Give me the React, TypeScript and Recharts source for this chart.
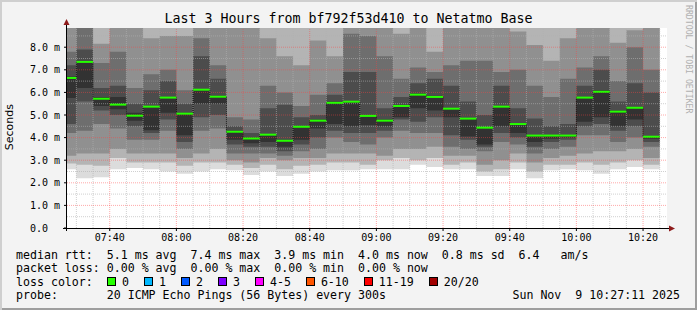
import { ComposedChart, Area, Line, Scatter, XAxis, YAxis, CartesianGrid, ReferenceLine } from "recharts";

const MONO = '"DejaVu Sans Mono", monospace';
const SANS = '"DejaVu Sans", sans-serif';

// time in minutes since midnight; one bin = 5 minutes (20 pings every 300s)
const firstBinStart = 445; // 07:25
const binMinutes = 5;
const windowStart = 447 + 11 / 60; // 07:27:11
const windowEnd = windowStart + 180; // 10:27:11
const yMax = 8.85;

// smoke: sorted ping quantiles per bin (ms), outermost pair first
const pMin = [2.6, 2.2, 2.25, 2.6, 2.65, 2.6, 2.5, 2.4, 2.5, 2.6, 2.55, 2.35, 2.5, 2.3, 2.4, 2.5, 2.55, 2.55, 2.6, 2.6, 2.6, 2.8, 2.7, 2.6, 2.6, 2.3, 2.3, 2.6, 2.2, 2.55, 2.6, 2.55, 2.4, 2.6, 2.7, 2.6];
const lo2 = [2.85, 2.8, 2.75, 3.1, 2.9, 2.9, 2.9, 2.75, 2.9, 2.9, 2.8, 2.65, 2.8, 2.6, 2.75, 2.8, 2.9, 2.9, 2.8, 3.0, 3.1, 3.0, 3.1, 2.8, 2.9, 2.5, 2.6, 2.9, 2.5, 2.8, 2.8, 2.9, 2.8, 2.9, 3.0, 2.8];
const lo3 = [3.2, 3.3, 3.3, 3.5, 3.3, 3.3, 3.3, 3.1, 3.3, 3.5, 3.0, 2.9, 3.1, 3.0, 3.1, 3.1, 3.3, 3.3, 3.3, 3.2, 3.5, 3.5, 3.6, 3.2, 3.2, 2.8, 3.0, 3.3, 2.9, 3.1, 3.2, 3.3, 3.4, 3.4, 3.5, 3.1];
const lo4 = [4.2, 4.3, 4.6, 4.4, 3.9, 3.9, 4.3, 3.5, 4.3, 4.4, 3.3, 3.3, 3.3, 3.2, 3.4, 3.5, 4.0, 3.8, 3.7, 4.0, 4.3, 4.2, 4.2, 3.6, 3.5, 3.4, 3.8, 3.7, 3.3, 3.5, 3.6, 4.1, 4.1, 3.8, 4.0, 3.6];
const lo5 = [4.6, 5.6, 5.2, 5.0, 4.5, 4.2, 4.8, 3.8, 4.9, 5.0, 3.7, 3.6, 3.6, 3.4, 3.7, 4.0, 4.3, 4.2, 4.2, 4.3, 4.8, 4.7, 4.9, 4.1, 3.9, 3.6, 4.2, 4.0, 3.6, 3.8, 3.9, 4.5, 4.6, 4.3, 4.5, 3.8];
const lo6 = [5.75, 6.2, 5.4, 5.25, 4.75, 4.33, 5.1, 4.1, 5.5, 5.5, 3.9, 3.75, 3.8, 3.6, 3.9, 4.4, 4.6, 4.5, 4.55, 4.5, 4.9, 5.3, 5.2, 4.9, 4.05, 3.7, 4.5, 4.2, 3.8, 3.95, 4.0, 4.7, 4.9, 4.5, 4.8, 3.95];
const hi6 = [6.7, 7.4, 5.8, 5.8, 5.1, 5.4, 5.8, 5.1, 6.15, 5.85, 4.3, 4.0, 4.15, 3.9, 4.5, 4.8, 5.6, 5.6, 5.0, 4.8, 5.45, 5.95, 5.85, 5.3, 4.85, 4.45, 5.4, 4.65, 4.1, 4.1, 4.1, 5.8, 6.1, 5.2, 5.35, 4.05];
const hi5 = [7.2, 7.9, 6.2, 6.3, 5.5, 6.1, 6.5, 5.5, 7.6, 6.6, 4.5, 4.2, 5.3, 5.45, 4.9, 5.0, 5.9, 6.9, 6.9, 5.3, 5.8, 6.4, 6.6, 6.3, 5.6, 5.0, 6.3, 5.3, 4.85, 4.5, 4.6, 6.3, 7.0, 5.6, 6.4, 6.0];
const hi4 = [7.8, 9.5, 7.3, 7.8, 6.2, 6.8, 7.0, 6.1, 8.4, 7.2, 4.9, 4.8, 6.3, 6.0, 5.4, 5.9, 6.4, 8.6, 8.5, 7.6, 6.6, 7.1, 6.9, 7.2, 7.4, 7.4, 6.9, 7.0, 6.3, 5.8, 6.6, 7.1, 7.6, 6.5, 8.0, 7.0];
const hi3 = [9.5, 10, 8.15, 9.5, 9.5, 8.4, 8.5, 8.5, 9.5, 9.5, 9.5, 9.5, 8.4, 7.6, 7.2, 8.3, 7.6, 9.5, 9.5, 9.5, 8.6, 9.5, 7.8, 9.5, 9.5, 9.5, 9.5, 8.7, 8.1, 7.4, 8.4, 9.5, 9.5, 8.2, 8.75, 9.5];
const hi2 = [10, 10.5, 9.5, 10, 10, 9.5, 9.5, 9.5, 10, 10, 10, 10, 9.5, 9.5, 9.5, 9.5, 9.5, 10, 10, 10, 9.5, 10, 9.5, 10, 10, 10, 10, 9.5, 9.5, 9.5, 9.5, 10, 10, 9.5, 9.5, 10];
const pMax = [11, 11, 10, 11, 11, 10, 10, 10, 11, 11, 11, 11, 10, 10, 10, 10, 10, 11, 11, 11, 10, 11, 10, 11, 11, 11, 11, 10, 10, 10, 10, 11, 11, 10, 10, 11];

// median rtt per bin (ms)
const median = [6.64, 7.35, 5.72, 5.46, 4.97, 5.37, 5.77, 5.06, 6.12, 5.81, 4.26, 3.96, 4.13, 3.86, 4.48, 4.75, 5.54, 5.59, 4.96, 4.75, 5.4, 5.9, 5.8, 5.28, 4.84, 4.44, 5.37, 4.6, 4.09, 4.09, 4.09, 5.77, 6.03, 5.15, 5.32, 4.04];

const xTickValues = [460, 480, 500, 520, 540, 560, 580, 600, 620];
const xTickLabels = ["07:40", "08:00", "08:20", "08:40", "09:00", "09:20", "09:40", "10:00", "10:20"];
const yTickValues = [0, 1, 2, 3, 4, 5, 6, 7, 8];
const yTickLabels = ["0.0", "1.0 m", "2.0 m", "3.0 m", "4.0 m", "5.0 m", "6.0 m", "7.0 m", "8.0 m"];
const yMinorValues = [0.5, 1.5, 2.5, 3.5, 4.5, 5.5, 6.5, 7.5, 8.5];

const lossLabels = ["0", "1", "2", "3", "4-5", "6-10", "11-19", "20/20"];
const lossColors = ["#26ff00", "#00b8ff", "#0059ff", "#7e00ff", "#ff00ff", "#ff5500", "#ff0000", "#a10000"];

const smokeLayers = [
  { key: "l1", lo: pMin, hi: pMax, color: "#dcdcdc" },
  { key: "l2", lo: lo2, hi: hi2, color: "#b4b4b4" },
  { key: "l3", lo: lo3, hi: hi3, color: "#909090" },
  { key: "l4", lo: lo4, hi: hi4, color: "#6e6e6e" },
  { key: "l5", lo: lo5, hi: hi5, color: "#4c4c4c" },
  { key: "l6", lo: lo6, hi: hi6, color: "#323232" },
];

const rows = median.map((m, i) => {
  const r: any = { t: firstBinStart + i * binMinutes, med: m };
  smokeLayers.forEach((l) => (r[l.key] = [l.lo[i], l.hi[i]]));
  return r;
});
// closing point so the last step is drawn
rows.push({ ...rows[rows.length - 1], t: firstBinStart + median.length * binMinutes });

const medianPoints = median.map((m, i) => ({ t: firstBinStart + i * binMinutes + binMinutes / 2, med: m }));

const minorX: number[] = [];
for (let t = firstBinStart + binMinutes; t < windowEnd; t += binMinutes) {
  if (!xTickValues.includes(t)) minorX.push(t);
}

const W = 697;
const H = 310;
const PLOT_L = 67;
const PLOT_R = 667;
const PLOT_T = 28;
const PLOT_B = 228;
const halfBinPx = ((PLOT_R - PLOT_L) / (windowEnd - windowStart)) * (binMinutes / 2);

const MedianTick = (p: any) => {
  const x1 = Math.max(p.cx - halfBinPx, PLOT_L);
  const x2 = Math.min(p.cx + halfBinPx, PLOT_R);
  return <line x1={x1} x2={x2} y1={p.cy} y2={p.cy} stroke={lossColors[0]} strokeWidth={2} />;
};

const YTick = (p: any) => {
  const idx = yTickValues.indexOf(p.payload.value);
  return (
    <text x={30} y={p.y} dy="0.35em" textAnchor="start" fontSize={10} fontFamily={MONO} fill="#000">
      {yTickLabels[idx]}
    </text>
  );
};

const minorGrid = "rgba(176,176,176,0.6)";
const majorGrid = "rgba(255,64,64,0.45)";

const rowStyle = (top: number): React.CSSProperties => ({
  position: "absolute",
  left: 16,
  top,
  fontFamily: MONO,
  fontSize: 11.6,
  lineHeight: "14px",
  whiteSpace: "pre",
  color: "#000",
});

export default function App() {
  return (
    <div style={{ position: "relative", width: W, height: H, background: "#f3f3f3", overflow: "hidden" }}>
      <style>{"body{margin:0}"}</style>

      <div style={{ position: "absolute", left: 0, top: 0 }}>
        <ComposedChart width={W} height={H} data={rows} margin={{ top: PLOT_T, right: W - PLOT_R, bottom: H - PLOT_B, left: PLOT_L }}>
          <CartesianGrid fill="#ffffff" stroke="none" />
          <XAxis type="number" dataKey="t" domain={[windowStart, windowEnd]} allowDataOverflow hide />
          <YAxis type="number" domain={[0, yMax]} allowDataOverflow hide />
          {smokeLayers.map((l) => (
            <Area
              key={l.key}
              type="stepAfter"
              dataKey={l.key}
              stroke="none"
              fill={l.color}
              fillOpacity={1}
              dot={false}
              activeDot={false}
              isAnimationActive={false}
            />
          ))}
        </ComposedChart>
      </div>

      <div style={{ position: "absolute", left: 0, top: 0 }}>
        <ComposedChart width={W} height={H} data={rows} margin={{ top: PLOT_T, right: W - PLOT_R, bottom: 0, left: 0 }}>
          <XAxis
            type="number"
            dataKey="t"
            domain={[windowStart, windowEnd]}
            allowDataOverflow
            ticks={xTickValues}
            interval={0}
            tickFormatter={(v: number) => xTickLabels[xTickValues.indexOf(v)]}
            height={H - PLOT_B}
            axisLine={false}
            tickLine={{ stroke: "#000" }}
            tickSize={3}
            tickMargin={3}
            tick={{ fontSize: 10, fill: "#000", fontFamily: MONO }}
          />
          <YAxis
            type="number"
            domain={[0, yMax]}
            allowDataOverflow
            ticks={yTickValues}
            interval={0}
            width={PLOT_L}
            axisLine={false}
            tickLine={{ stroke: "#000" }}
            tickSize={3}
            tick={<YTick />}
          />
          {minorX.map((t) => (
            <ReferenceLine key={"mx" + t} x={t} stroke={minorGrid} strokeDasharray="1 1" />
          ))}
          {yMinorValues.map((v) => (
            <ReferenceLine key={"my" + v} y={v} stroke={minorGrid} strokeDasharray="1 1" />
          ))}
          {xTickValues.map((t) => (
            <ReferenceLine key={"Mx" + t} x={t} stroke={majorGrid} strokeDasharray="1 1" />
          ))}
          {yTickValues.slice(1).map((v) => (
            <ReferenceLine key={"My" + v} y={v} stroke={majorGrid} strokeDasharray="1 1" />
          ))}
          <Line type="stepAfter" dataKey="med" stroke="#111" strokeWidth={1} strokeDasharray="1 1" dot={false} activeDot={false} isAnimationActive={false} />
          <Scatter data={medianPoints} dataKey="med" shape={MedianTick} isAnimationActive={false} />
        </ComposedChart>
      </div>

      <svg width={W} height={H} style={{ position: "absolute", left: 0, top: 0, pointerEvents: "none" }}>
        <line x1={63} x2={670} y1={PLOT_B + 0.5} y2={PLOT_B + 0.5} stroke="#000" strokeWidth={1} />
        <line x1={PLOT_L - 0.5} x2={PLOT_L - 0.5} y1={PLOT_B + 3} y2={23} stroke="#000" strokeWidth={1} />
        <polygon points={`${PLOT_L - 3.5},25 ${PLOT_L + 2.5},25 ${PLOT_L - 0.5},19`} fill="#8e1b1b" />
        <polygon points={`669,${PLOT_B - 2.5} 669,${PLOT_B + 3.5} 675,${PLOT_B + 0.5}`} fill="#8e1b1b" />
      </svg>

      <div style={{ position: "absolute", left: 0, top: 11, width: W, textAlign: "center", fontFamily: MONO, fontSize: 13.3, lineHeight: "16px", color: "#000" }}>
        Last 3 Hours from bf792f53d410 to Netatmo Base
      </div>

      <div style={{ position: "absolute", left: 4, top: 104, writingMode: "vertical-rl", transform: "rotate(180deg)", fontFamily: SANS, fontSize: 11, lineHeight: "12px", color: "#000" }}>
        Seconds
      </div>

      <div style={{ position: "absolute", left: 684, top: 5, writingMode: "vertical-rl", fontFamily: MONO, fontSize: 8.2, lineHeight: "9px", color: "#b0b0b0" }}>
        RRDTOOL / TOBI OETIKER
      </div>

      <div style={rowStyle(247.5)}>{"median rtt:  5.1 ms avg  7.4 ms max  3.9 ms min  4.0 ms now  0.8 ms sd  6.4   am/s"}</div>
      <div style={rowStyle(261)}>{"packet loss: 0.00 % avg  0.00 % max  0.00 % min  0.00 % now"}</div>
      <div style={{ ...rowStyle(274.5), display: "flex", alignItems: "center" }}>
        <span style={{ width: 91 }}>loss color:</span>
        {lossLabels.map((lab, i) => (
          <span key={lab} style={{ display: "flex", alignItems: "center", marginRight: 15 }}>
            <span style={{ width: 7, height: 7, border: "1px solid #000", background: lossColors[i], marginRight: 6 }} />
            <span>{lab}</span>
          </span>
        ))}
      </div>
      <div style={rowStyle(288)}>{"probe:       20 ICMP Echo Pings (56 Bytes) every 300s"}</div>
      <div style={{ ...rowStyle(288), left: "auto", right: 17 }}>{"Sun Nov  9 10:27:11 2025"}</div>

      <div style={{ position: "absolute", inset: 0, boxShadow: "inset 2px 2px 0 #cfcfcf, inset -2px -2px 0 #9e9e9e", pointerEvents: "none" }} />
    </div>
  );
}
